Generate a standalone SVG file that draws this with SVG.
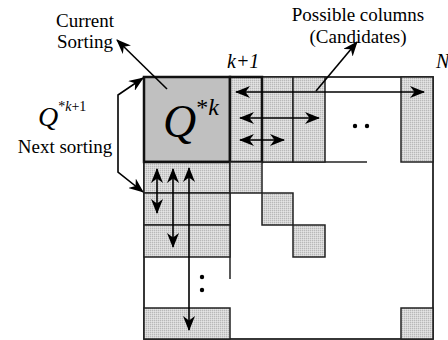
<svg xmlns="http://www.w3.org/2000/svg" width="448" height="340" viewBox="0 0 448 340">
<defs>
<pattern id="stip" width="2" height="2" patternUnits="userSpaceOnUse">
<rect width="2" height="2" fill="#d6d6d6"/>
<rect width="1" height="1" fill="#b8b8b8"/>
<rect x="1" y="1" width="1" height="1" fill="#e4e4e4"/>
</pattern>
<marker id="ah" viewBox="0 0 15 12" refX="14" refY="6" markerWidth="15" markerHeight="12" markerUnits="userSpaceOnUse" orient="auto-start-reverse">
<path d="M0,0 L15,6 L0,12 L4.5,6 Z" fill="#000"/>
</marker>
</defs>
<style>
.cell{fill:url(#stip);stroke:#222;stroke-width:1.5}
.thick{fill:none;stroke:#111;stroke-width:2.5}
.ln{fill:none;stroke:#222;stroke-width:1.5}
.arr{fill:none;stroke:#000;stroke-width:1.6}
.dbl{marker-start:url(#ah);marker-end:url(#ah)}
.sgl{marker-end:url(#ah)}
text{font-family:"Liberation Serif","Times New Roman",serif;fill:#000}
.it{font-style:italic}
</style>
<g id="matrix">
<rect x="144" y="77" width="289" height="262" fill="#fff" stroke="#222" stroke-width="1.8"/>
<line class="ln" x1="144" y1="162" x2="367" y2="162"/>
<line class="ln" x1="230" y1="162" x2="230" y2="279"/>
</g>
<g id="qk">
<rect x="144" y="77" width="86" height="85" fill="#c0c0c0" stroke="#111" stroke-width="2.5"/>
<text x="163" y="137"><tspan font-size="46" class="it">Q</tspan><tspan font-size="24" dy="-22">*</tspan><tspan font-size="24" class="it">k</tspan></text>
</g>
<g id="top-cols">
<rect class="cell" x="230" y="77" width="32" height="85"/>
<rect class="cell" x="262" y="77" width="31" height="85"/>
<rect class="cell" x="293" y="77" width="32" height="85"/>
<rect class="thick" x="230" y="77" width="32" height="85"/>
<rect class="cell" x="401" y="77" width="32" height="85"/>
</g>
<g id="left-rows">
<rect class="cell" x="144" y="162" width="86" height="31"/>
<rect class="cell" x="144" y="193" width="86" height="32"/>
<rect class="cell" x="144" y="225" width="86" height="32"/>
<rect class="cell" x="144" y="308" width="86" height="31"/>
<line x1="144" y1="162" x2="230" y2="162" stroke="#111" stroke-width="2.5"/>
</g>
<g id="diagonal">
<rect class="cell" x="230" y="162" width="32" height="31"/>
<rect class="cell" x="262" y="193" width="31" height="32"/>
<rect class="cell" x="293" y="225" width="32" height="32"/>
<rect class="cell" x="401" y="308" width="32" height="31"/>
</g>
<g id="dots">
<circle cx="355" cy="126" r="2.2"/>
<circle cx="367" cy="126" r="2.2"/>
<circle cx="202" cy="277" r="2.2"/>
<circle cx="202" cy="290" r="2.2"/>
</g>
<g id="connectors">
<line class="arr dbl" x1="236" y1="92" x2="424" y2="92"/>
<line class="arr dbl" x1="240" y1="118" x2="319" y2="118"/>
<line class="arr dbl" x1="240" y1="140" x2="284" y2="140"/>
<line class="arr dbl" x1="157" y1="169" x2="157" y2="213"/>
<line class="arr dbl" x1="173" y1="169" x2="173" y2="247"/>
<line class="arr dbl" x1="189" y1="168" x2="189" y2="330"/>
<line class="arr sgl" x1="316" y1="91" x2="357" y2="42"/>
<line class="arr sgl" x1="167" y1="89" x2="117" y2="40"/>
<path class="arr dbl" d="M143,78 L118,95 L118,172 L143,192"/>
</g>
<g id="labels">
<text x="85" y="27" font-size="19" text-anchor="middle">Current</text>
<text x="85" y="48" font-size="19" text-anchor="middle">Sorting</text>
<text x="358" y="21" font-size="19" text-anchor="middle">Possible columns</text>
<text x="358" y="43" font-size="19" text-anchor="middle">(Candidates)</text>
<text x="227" y="68" font-size="20" class="it">k+1</text>
<text x="436" y="68" font-size="20" class="it">N</text>
<text x="38" y="126"><tspan font-size="28" class="it">Q</tspan><tspan font-size="14" dy="-15">*</tspan><tspan font-size="14" class="it">k</tspan><tspan font-size="14">+1</tspan></text>
<text x="65" y="153" font-size="19" text-anchor="middle">Next sorting</text>
</g>
</svg>
